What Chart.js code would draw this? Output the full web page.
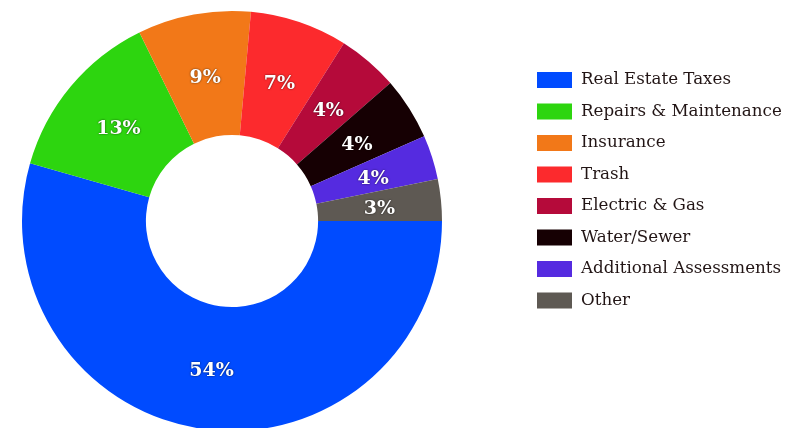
<!DOCTYPE html>
<html>
<head>
<meta charset="utf-8">
<script src="https://cdn.jsdelivr.net/npm/chart.js@4"></script>
<style>
  body { margin: 0; background: #fff; }
  #myChart { display: block; }
</style>
</head>
<body>
<canvas id="myChart" width="804" height="428"></canvas>
<script>
const categories = ['Real Estate Taxes', 'Repairs & Maintenance', 'Insurance', 'Trash',
    'Electric & Gas', 'Water/Sewer', 'Additional Assessments', 'Other']
const shares = [54.4, 13.3, 8.7, 7.5, 4.65, 4.8, 3.4, 3.2]
const shareLabels = ['54%', '13%', '9%', '7%', '4%', '4%', '4%', '3%']
const colors = ['#004bff', '#2dd50f', '#f27818', '#fc2a2d', '#b50a3a', '#160003', '#552be0', '#5e5953']

// white percentage text on each slice
const sliceLabels = {
    id: 'sliceLabels',
    afterDatasetsDraw(chart) {
        const c = chart.ctx
        const arcs = chart.getDatasetMeta(0).data
        c.save()
        c.font = 'bold 19px "DejaVu Serif"'
        c.fillStyle = '#fff'
        c.textAlign = 'center'
        c.textBaseline = 'middle'
        c.shadowColor = 'rgba(0,0,0,0.7)'
        c.shadowBlur = 2
        arcs.forEach((arc, i) => {
            const p = arc.tooltipPosition()
            c.fillText(shareLabels[i], p.x, p.y + 3)
        })
        c.restore()
    }
}

// legend on the right
const sideLegend = {
    id: 'sideLegend',
    afterDraw(chart) {
        const c = chart.ctx
        c.save()
        c.font = '16.7px "DejaVu Serif"'
        c.textBaseline = 'middle'
        chart.data.labels.forEach((label, i) => {
            const y = 72 + i * 31.5
            c.fillStyle = colors[i]
            c.fillRect(537, y, 35, 16)
            c.fillStyle = '#221515'
            c.fillText(label, 581, y + 8)
        })
        c.restore()
    }
}

const ctx = document.getElementById('myChart')

const chart = new Chart(ctx, {
    type: 'doughnut',
    data: {
        labels: categories,
        datasets: [{
            data: shares,
            backgroundColor: colors,
            borderWidth: 0
        }]
    },
    options: {
        responsive: false,
        animation: false,
        devicePixelRatio: 1,
        rotation: 90,
        radius: 210,
        cutout: '41%',
        layout: {
            padding: { left: 22, right: 362, top: 14, bottom: 0 }
        },
        plugins: {
            legend: { display: false },
            tooltip: { enabled: false }
        }
    },
    plugins: [sliceLabels, sideLegend]
})
</script>
</body>
</html>
